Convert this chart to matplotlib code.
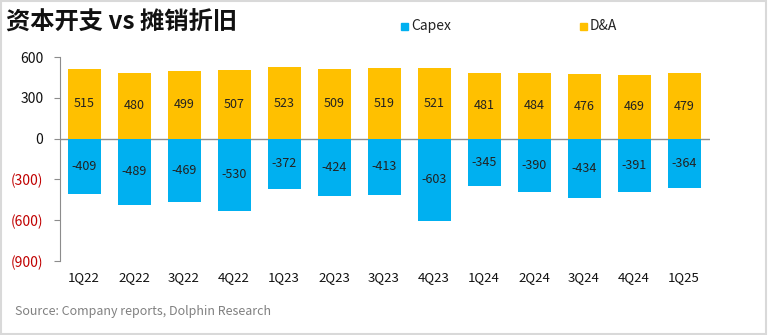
import matplotlib
matplotlib.use("Agg")
import matplotlib.pyplot as plt
from matplotlib.patches import Rectangle
import numpy as np

plt.rcParams['font.family'] = ['Noto Sans CJK SC', 'DejaVu Sans']

quarters = ["1Q22", "2Q22", "3Q22", "4Q22", "1Q23", "2Q23", "3Q23", "4Q23",
            "1Q24", "2Q24", "3Q24", "4Q24", "1Q25"]
capex = [-409, -489, -469, -530, -372, -424, -413, -603, -345, -390, -434, -391, -364]
dna = [515, 480, 499, 507, 523, 509, 519, 521, 481, 484, 476, 469, 479]
yticks = [600, 300, 0, -300, -600, -900]
ytick_labels = ["600", "300", "0", "(300)", "(600)", "(900)"]

blue = "#00B0F0"
gold = "#FFC000"

fig = plt.figure(figsize=(7.68, 3.35), dpi=100)
ax = fig.add_axes([60/768, 1-261/335, 650/768, 204/335])

x = np.arange(len(quarters))
w = 0.66
ax.bar(x, dna, width=w, color=gold, zorder=2)
ax.bar(x, capex, width=w, color=blue, zorder=2)
for xi, v in zip(x, dna):
    ax.text(xi, v/2, f"{v}", ha="center", va="center", fontsize=9, color="#222222", zorder=3)
for xi, v in zip(x, capex):
    ax.text(xi, v/2, f"{v}", ha="center", va="center", fontsize=9, color="#222222", zorder=3)

ax.axhline(0, color="#8c8c8c", lw=1, zorder=1)
ax.set_ylim(-900, 600)
ax.set_xlim(-0.48, len(quarters) - 1 + 0.52)
ax.set_yticks(yticks)
ax.set_yticklabels(ytick_labels, fontsize=10)
for lbl, v in zip(ax.get_yticklabels(), yticks):
    lbl.set_color("#C00000" if v < 0 else "#111111")
ax.set_xticks(x)
ax.set_xticklabels(quarters, fontsize=9.5, color="#111111")
ax.tick_params(axis="x", length=0, pad=7)
ax.tick_params(axis="y", length=4, color="#8c8c8c", pad=8)
for s in ["top", "right", "bottom"]:
    ax.spines[s].set_visible(False)
ax.spines["left"].set_color("#8c8c8c")

fig.text(6/768, 1-23/335, "资本开支 vs 摊销折旧", fontsize=17.5, fontweight="bold",
         ha="left", va="center", color="#111111")

# legend
fig.patches.append(Rectangle((401/768, 1-30/335), 7/768, 7/335, transform=fig.transFigure,
                             color=blue))
fig.text(411/768, 1-26/335, "Capex", fontsize=10, va="center", ha="left", color="#222222")
fig.patches.append(Rectangle((580/768, 1-30/335), 7/768, 7/335, transform=fig.transFigure,
                             color=gold))
fig.text(590/768, 1-26/335, "D&A", fontsize=10, va="center", ha="left", color="#222222")

fig.text(15/768, 1-312/335, "Source: Company reports, Dolphin Research", fontsize=9,
         ha="left", va="center", color="#808080")

fig.patches.append(Rectangle((0.001, 0.002), 0.997, 0.995, transform=fig.transFigure,
                             fill=False, edgecolor="#d9d9d9", lw=1.5))

fig.savefig("out.png", dpi=100)
